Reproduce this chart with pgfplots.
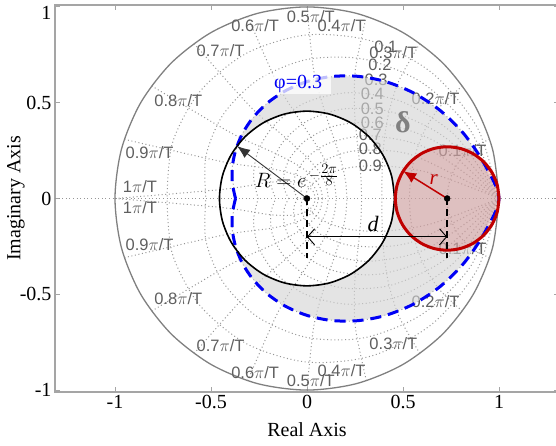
\documentclass[border=0pt]{standalone}
\usepackage{fontspec}
\setmainfont{Liberation Serif}
\newfontfamily\gridsans{Liberation Sans}
\usepackage{pgfplots}
\pgfplotsset{compat=1.18}
\usepackage{pgfplotstable}
\usetikzlibrary{arrows.meta}

\definecolor{axgray}{RGB}{165,165,165}
\definecolor{gridgray}{RGB}{150,150,150}
\definecolor{circgray}{RGB}{128,128,128}
\definecolor{labgray}{RGB}{95,95,95}
\definecolor{regiongray}{RGB}{212,212,212}
\definecolor{myblue}{RGB}{0,0,245}
\definecolor{myred}{RGB}{192,0,0}

\tikzset{
  gridl/.style={draw=gridgray, line width=1pt, dash pattern=on 1pt off 2.6pt, mark=none},
  glab/.style={font=\gridsans\fontsize{16.5}{18}\selectfont, text=labgray, inner sep=0pt},
}

% damping spirals r = exp(-m*theta), theta in degrees
\pgfplotstableread{
t z1 z2 z3 z4 z5 z6 z7 z8
0 1 1 1 1 1 1 1 1
22.5 0.96130 0.92297 0.88382 0.84249 0.79714 0.74489 0.68050 0.59239
45 0.92410 0.85187 0.78114 0.70980 0.63544 0.55485 0.46308 0.35092
67.5 0.88833 0.78625 0.69039 0.59800 0.50653 0.41330 0.31512 0.20788
90 0.85395 0.72569 0.61018 0.50381 0.40377 0.30786 0.21445 0.12315
112.5 0.82090 0.66979 0.53929 0.42445 0.32187 0.22932 0.14593 0.07295
135 0.78913 0.61820 0.47664 0.35760 0.25658 0.17082 0.09931 0.04321
157.5 0.75859 0.57058 0.42126 0.30127 0.20452 0.12724 0.06758 0.02560
180 0.72923 0.52663 0.37232 0.25383 0.16303 0.09478 0.04599 0.01516
}\zetatab

\pgfplotstableread{
t r
0 1
11.25 0.66670
22.5 0.44450
33.75 0.29634
45 0.19758
56.25 0.13171
67.5 0.08782
90 0.03904
112.5 0.01735
135 0.00771
180 0.00152
}\zetanine

% natural frequency curves (angle deg, radius)
\pgfplotstableread{
a1 r1 a2 r2 a3 r3 a4 r4 a5 r5 a6 r6 a7 r7 a8 r8 a9 r9 a10 r10
18 1 36 1 54 1 72 1 90 1 108 1 126 1 144 1 162 1 180 1
17.387 0.92190 34.773 0.84991 52.160 0.78354 69.545 0.72236 86.931 0.66596 104.317 0.61396 121.703 0.56602 139.090 0.52182 156.480 0.48108 173.862 0.44351
15.588 0.85464 31.177 0.73040 46.765 0.62423 62.354 0.53349 77.942 0.45594 93.531 0.38966 109.119 0.33302 124.707 0.28460 140.296 0.24324 155.885 0.20788
12.728 0.80081 25.456 0.64130 38.184 0.51355 50.912 0.41124 63.640 0.32933 76.367 0.26372 89.095 0.21119 101.823 0.16912 114.551 0.13544 127.279 0.10845
9 0.76181 18 0.58035 27 0.44209 36 0.33679 45 0.25658 54 0.19547 63 0.14891 72 0.11344 81 0.08642 90 0.06583
4.659 0.73826 9.317 0.54504 13.976 0.40237 18.634 0.29706 23.293 0.21932 27.952 0.16192 32.610 0.11954 37.269 0.08825 41.927 0.06516 46.587 0.04810
0 0.73040 0 0.53349 0 0.38966 0 0.28460 0 0.20788 0 0.15184 0 0.11090 0 0.08100 0 0.05917 0 0.04321
}\wntab

\begin{document}
\begin{tikzpicture}
\begin{axis}[
  name=ax,
  scale only axis, width=504pt, height=387pt,
  xmin=-1.3125, xmax=1.3125, ymin=-1.01, ymax=1.01,
  xtick={-1,-0.5,0,0.5,1}, ytick={-1,-0.5,0,0.5,1},
  yticklabels={-1,-0.5,0,0.5,\raisebox{-13pt}[0pt][0pt]{1}},
  tick align=inside, major tick length=5pt,
  axis line style={draw=axgray, line width=1.6pt},
  every tick/.style={draw=axgray, line width=1pt},
  xtick pos=both, ytick pos=both,
  ticklabel style={font=\fontsize{20}{24}\selectfont, text=black},
  /pgf/number format/assume math mode=true,
  xlabel={Real Axis}, ylabel={Imaginary Axis},
  every axis x label/.style={at={(axis description cs:0.5,-0.0982)}, anchor=center, font=\fontsize{20}{24}\selectfont},
  every axis y label/.style={at={(axis description cs:-0.0774,0.5)}, rotate=90, anchor=center, font=\fontsize{20}{24}\selectfont},
]
% real axis dotted line
\addplot[gridl] coordinates {(-1.3125,0) (1.3125,0)};
% damping lines
\pgfplotsinvokeforeach{1,2,3,4,5,6,7,8}{
  \addplot[gridl, smooth, data cs=polar] table[x=t, y=z#1] {\zetatab};
  \addplot[gridl, smooth, data cs=polar] table[x expr=-\thisrow{t}, y=z#1] {\zetatab};
}
\addplot[gridl, smooth, data cs=polar] table[x=t, y=r] {\zetanine};
\addplot[gridl, smooth, data cs=polar] table[x expr=-\thisrow{t}, y=r] {\zetanine};
% natural frequency lines
\pgfplotsinvokeforeach{1,2,3,4,5,6,7,8,9,10}{
  \addplot[gridl, smooth, data cs=polar] table[x=a#1, y=r#1] {\wntab};
  \addplot[gridl, smooth, data cs=polar] table[x expr=-\thisrow{a#1}, y=r#1] {\wntab};
}
% unit circle
\addplot[circgray, line width=1.3pt, smooth, mark=none, data cs=polar] coordinates {
(0,1) (15,1) (30,1) (45,1) (60,1) (75,1) (90,1) (105,1) (120,1) (135,1) (150,1) (165,1)
(180,1) (195,1) (210,1) (225,1) (240,1) (255,1) (270,1) (285,1) (300,1) (315,1) (330,1) (345,1) (360,1)};

% grid labels: natural frequency
\node[glab] at (axis cs:0.81,0.25) {0.1$\pi$/T};
\node[glab] at (axis cs:0.67,0.52) {0.2$\pi$/T};
\node[glab] at (axis cs:0.45,0.76) {0.3$\pi$/T};
\node[glab] at (axis cs:0.18,0.90) {0.4$\pi$/T};
\node[glab] at (axis cs:0.02,0.95) {0.5$\pi$/T};
\node[glab] at (axis cs:-0.27,0.90) {0.6$\pi$/T};
\node[glab] at (axis cs:-0.45,0.77) {0.7$\pi$/T};
\node[glab] at (axis cs:-0.67,0.51) {0.8$\pi$/T};
\node[glab] at (axis cs:-0.82,0.24) {0.9$\pi$/T};
\node[glab] at (axis cs:-0.87,0.06) {1$\pi$/T};
\node[glab] at (axis cs:-0.87,-0.05) {1$\pi$/T};
\node[glab] at (axis cs:-0.82,-0.24) {0.9$\pi$/T};
\node[glab] at (axis cs:-0.67,-0.52) {0.8$\pi$/T};
\node[glab] at (axis cs:-0.45,-0.77) {0.7$\pi$/T};
\node[glab] at (axis cs:-0.27,-0.91) {0.6$\pi$/T};
\node[glab] at (axis cs:0.02,-0.95) {0.5$\pi$/T};
\node[glab] at (axis cs:0.18,-0.90) {0.4$\pi$/T};
\node[glab] at (axis cs:0.45,-0.76) {0.3$\pi$/T};
\node[glab] at (axis cs:0.67,-0.54) {0.2$\pi$/T};
\node[glab] at (axis cs:0.81,-0.26) {0.1$\pi$/T};
% grid labels: damping
\node[glab] at (axis cs:0.41,0.79) {0.1};
\node[glab] at (axis cs:0.38,0.70) {0.2};
\node[glab] at (axis cs:0.36,0.62) {0.3};
\node[glab] at (axis cs:0.34,0.545) {0.4};
\node[glab] at (axis cs:0.34,0.47) {0.5};
\node[glab] at (axis cs:0.34,0.395) {0.6};
\node[glab] at (axis cs:0.33,0.33) {0.7};
\node[glab] at (axis cs:0.33,0.26) {0.8};
\node[glab] at (axis cs:0.33,0.17) {0.9};

% shaded region delta
\addplot[draw=none, fill=regiongray, fill opacity=0.62, mark=none, data cs=polar] coordinates {
(-143.09,0.45594) (-135,0.47664) (-123.75,0.50700) (-112.5,0.53929) (-101.25,0.57364)
(-90,0.61018) (-78.75,0.64905) (-67.5,0.69039) (-56.25,0.73437) (-45,0.78114)
(-33.75,0.83090) (-22.5,0.88382) (-11.25,0.94012) (0,1) (11.25,0.94012) (22.5,0.88382)
(33.75,0.83090) (45,0.78114) (56.25,0.73437) (67.5,0.69039) (78.75,0.64905) (90,0.61018)
(101.25,0.57364) (112.5,0.53929) (123.75,0.50700) (135,0.47664) (143.09,0.45594)
(135,0.45594) (120,0.45594) (105,0.45594) (90,0.45594) (75,0.45594) (60,0.45594)
(45,0.45594) (30,0.45594) (15,0.45594) (0,0.45594) (-15,0.45594) (-30,0.45594)
(-45,0.45594) (-60,0.45594) (-75,0.45594) (-90,0.45594) (-105,0.45594) (-120,0.45594)
(-135,0.45594) (-143.09,0.45594)};

% red disc fill
\addplot[draw=none, fill=myred, fill opacity=0.16, smooth, mark=none] coordinates {
(1.0,0) (0.99080,0.06988) (0.96383,0.13500) (0.92092,0.19092) (0.865,0.23383) (0.79988,0.26080)
(0.73,0.27) (0.66012,0.26080) (0.595,0.23383) (0.53908,0.19092) (0.49617,0.135) (0.46920,0.06988)
(0.46,0) (0.46920,-0.06988) (0.49617,-0.135) (0.53908,-0.19092) (0.595,-0.23383) (0.66012,-0.26080)
(0.73,-0.27) (0.79988,-0.26080) (0.865,-0.23383) (0.92092,-0.19092) (0.96383,-0.13500) (0.99080,-0.06988) (1.0,0)};

% blue dashed damping 0.3 spiral
\addplot[myblue, line width=3pt, dash pattern=on 11pt off 7pt, smooth, mark=none, data cs=polar] coordinates {
(-180,0.37232) (-168.75,0.39604) (-157.5,0.42126) (-146.25,0.44810) (-135,0.47664) (-123.75,0.50700)
(-112.5,0.53929) (-101.25,0.57364) (-90,0.61018) (-78.75,0.64905) (-67.5,0.69039) (-56.25,0.73437)
(-45,0.78114) (-33.75,0.83090) (-22.5,0.88382) (-11.25,0.94012) (0,1) (11.25,0.94012) (22.5,0.88382)
(33.75,0.83090) (45,0.78114) (56.25,0.73437) (67.5,0.69039) (78.75,0.64905) (90,0.61018)
(101.25,0.57364) (112.5,0.53929) (123.75,0.50700) (135,0.47664) (146.25,0.44810) (157.5,0.42126)
(168.75,0.39604) (180,0.37232)};

% black circle R
\addplot[black, line width=1.6pt, smooth, mark=none, data cs=polar] coordinates {
(0,0.45594) (15,0.45594) (30,0.45594) (45,0.45594) (60,0.45594) (75,0.45594) (90,0.45594)
(105,0.45594) (120,0.45594) (135,0.45594) (150,0.45594) (165,0.45594) (180,0.45594)
(195,0.45594) (210,0.45594) (225,0.45594) (240,0.45594) (255,0.45594) (270,0.45594)
(285,0.45594) (300,0.45594) (315,0.45594) (330,0.45594) (345,0.45594) (360,0.45594)};

% red circle outline
\addplot[myred, line width=3pt, smooth, mark=none] coordinates {
(1.0,0) (0.99080,0.06988) (0.96383,0.13500) (0.92092,0.19092) (0.865,0.23383) (0.79988,0.26080)
(0.73,0.27) (0.66012,0.26080) (0.595,0.23383) (0.53908,0.19092) (0.49617,0.135) (0.46920,0.06988)
(0.46,0) (0.46920,-0.06988) (0.49617,-0.135) (0.53908,-0.19092) (0.595,-0.23383) (0.66012,-0.26080)
(0.73,-0.27) (0.79988,-0.26080) (0.865,-0.23383) (0.92092,-0.19092) (0.96383,-0.13500) (0.99080,-0.06988) (1.0,0)};

% annotations
\addplot[black, line width=1.4pt, dash pattern=on 7pt off 4pt, mark=none] coordinates {(0,0) (0,-0.31)};
\addplot[black, line width=1.4pt, dash pattern=on 7pt off 4pt, mark=none] coordinates {(0.73,0) (0.73,-0.31)};
\addplot[black, line width=0.9pt, mark=none, {Straight Barb[length=7pt,width=16pt]}-{Straight Barb[length=7pt,width=16pt]}] coordinates {(0,-0.2) (0.73,-0.2)};
\addplot[black!80, line width=0.9pt, mark=none, -{Latex[length=13pt,width=10pt]}] coordinates {(0,0) (-0.3645,0.2738)};
\addplot[myred, line width=1.5pt, mark=none, -{Latex[length=13pt,width=11pt]}] coordinates {(0.73,0) (0.501,0.143)};
\addplot[only marks, mark=*, mark size=3pt, black] coordinates {(0,0) (0.73,0)};

\node[anchor=west, fill=white, fill opacity=0.75, text opacity=1, text=myblue, inner xsep=2pt, inner ysep=1pt,
      minimum width=66pt, minimum height=20pt, font=\fontsize{20}{22}\selectfont] at (axis cs:-0.219,0.597) {φ=0.3};
\node[text=gray, font=\bfseries\fontsize{30}{32}\selectfont] at (axis cs:0.50,0.40) {δ};
\node[anchor=base west, inner sep=0pt, font=\fontsize{21}{24}\selectfont] at (axis cs:-0.272,0.055) {$R = e^{\,-\frac{\scriptstyle 2\pi}{\scriptstyle 8}}$};
\node[text=myred, font=\itshape\fontsize{21}{24}\selectfont] at (axis cs:0.66,0.10) {r};
\node[font=\itshape\fontsize{22}{24}\selectfont] at (axis cs:0.345,-0.135) {d};
\end{axis}
\pgfresetboundingbox
\path ([shift={(-55pt,-54pt)}]ax.south west) rectangle ([shift={(-3pt,5pt)}]ax.north east);
\end{tikzpicture}
\end{document}
